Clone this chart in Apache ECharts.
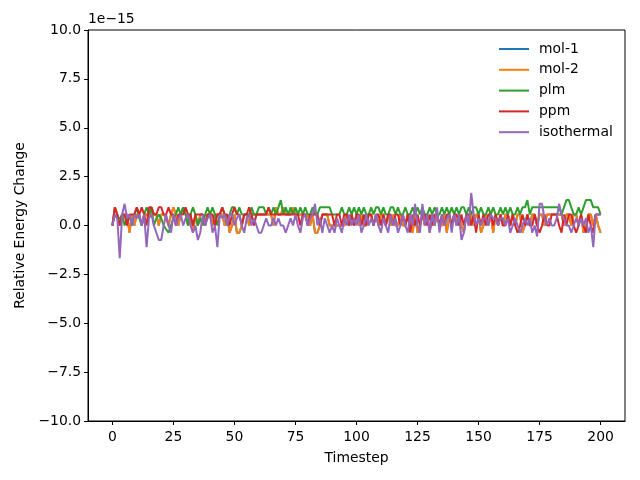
<!DOCTYPE html>
<html>
<head>
<meta charset="utf-8">
<script src="https://cdn.jsdelivr.net/npm/echarts@6/dist/echarts.min.js"></script>
<style>html,body{margin:0;padding:0;background:#fff}#c{width:640px;height:480px}</style>
</head>
<body>
<div id="c"></div>
<script>
// values in units of 1e-15
const seriesNames = ['mol-1', 'mol-2', 'plm', 'ppm', 'isothermal'];
const xTicks = [0, 25, 50, 75, 100, 125, 150, 175, 200];
const yTicks = [-10, -7.5, -5, -2.5, 0, 2.5, 5, 7.5, 10];

const mol2 = [
 0,0.93,0.56,0,0.37,0.56,0.56,-0.37,0.56,0,
 0.56,0.56,0,0.56,0.56,0.37,0.93,0.56,0.56,0,
 0.56,0.56,0.37,0,0.56,0.93,0.56,0,0.56,0.93,
 0.56,0,0.56,-0.37,0.56,0,0.56,0.56,0,0.56,
 0.56,0,0.56,0.56,0.56,0.56,0,0.56,-0.37,0,
 0.56,-0.37,-0.37,0,0.56,0.56,0,0.56,0.56,0.56,
 0.56,0.56,0.56,0.56,0.56,0.56,0,0.93,0.56,0.56,
 0.93,0.56,0.56,0.56,0.93,0.56,0.56,0.56,0.56,0.56,
 0.56,0,0.56,-0.37,-0.37,0,0.56,0.56,0.56,0,
 0,0,0,0,0,0,0.56,0,0.56,0,
 0.56,0,0.56,0,0,0.56,0.56,0,0.56,0,
 0.56,0.56,0,0.56,0,0.56,0,0,0.56,0,
 0,0.56,0.56,-0.37,0.56,-0.37,0,0.56,0,0.56,
 -0.37,0.56,0,0.56,0,0,0.56,-0.37,0.56,0,
 0.56,0,0.56,0,-0.37,0.56,0,0.56,0,0.56,
 0.56,-0.37,0,0.56,0,0.56,-0.37,0.56,0,0.56,
 0,0.56,0.56,0,0.56,0,0.56,0.56,-0.37,0,
 0.56,0,0.56,0.56,0,0.56,0.56,0,0.56,0.56,
 0.56,0.56,0.56,0.56,0.56,0,0.56,0.56,0,0.56,
 0.56,0,0.56,-0.37,0,0.56,0.56,0,0.56,0,
 -0.37
];
const mol1 = mol2.slice();

const plm = [
 0,0.56,0.37,0.37,0.56,0,0.37,0.56,0,0.56,
 0.93,0.37,0,0.56,0.93,0.56,0.93,0,0.37,0.56,
 0.37,0,-0.19,-0.37,0,0.37,0.56,0.93,0.56,0.93,
 0.56,0,0.56,0.93,0.56,0,0.37,0,0.56,0.93,
 0.56,0.93,0.56,0,0.56,0.93,0.56,0,0.56,0.93,
 0.93,0.56,0.93,0.56,0.56,0.56,0.56,0.93,0.56,0.56,
 0.93,0.93,0.93,0.56,0.93,0.56,0.93,0.56,0.93,1.3,
 0.56,0.93,0.56,0.93,0.56,0.93,0.56,0.93,0.56,0.93,
 0.56,0.56,0.93,0.56,0.56,0.93,0.93,0.93,0.93,0.93,
 0.56,0.56,0.56,0.56,0.93,0.56,0.56,0.93,0.56,0.93,
 0.56,0.93,0.56,0.93,0.56,0.56,0.93,0.56,0.93,0.93,
 0.56,0.93,0.56,0.56,0.93,0.93,0.56,0.93,0.56,0.56,
 0.93,0.56,0.56,0.93,0.56,0.93,0.56,0.93,0.56,0.56,
 0.93,0.56,0.93,0.56,0.56,0.93,0.56,0.93,0.56,0.93,
 0.56,0.93,0.56,0.93,0.93,0.56,0.93,0.56,0.93,0.93,
 0.56,0.93,0.56,0.56,0.93,0.56,0.93,0.56,0.56,0.93,
 0.56,0.93,0.56,0.93,0.56,0.56,0.93,0.56,0.93,0.93,
 1.3,0.56,0.93,0.93,0.93,0.93,0.93,0.93,0.93,0.93,
 0.93,0.93,0.93,0.93,0.56,0.93,1.3,1.3,0.93,0.56,
 0.56,0.93,0.56,0.93,1.3,1.3,1.3,0.93,0.93,0.93,
 0.56
];

const ppm = [
 0,0.93,0.56,0,0.56,0.56,0,0.56,0.56,0.56,
 0.93,0.56,0.93,0.56,0,0.93,0.93,0.56,0.56,0.93,
 0.93,0.56,0.56,0.93,0.56,0.56,0,0.56,0.56,0.56,
 0.93,0.56,0.56,0,0.56,0.56,0.56,0.56,0,0.56,
 0.56,0.56,0,0.56,0.56,0.93,0.56,0.56,0,0.56,
 0.93,0.56,0.56,0,0.56,0.56,0.93,0.56,0,0.56,
 0.56,0.56,0.56,0.56,0.93,0.56,0.56,0.56,0.56,0.56,
 0.56,0.56,0.56,0.56,0.56,0.56,0.56,0,0.56,0.56,
 0,0.56,0.56,0.56,0.56,0,0.56,0.56,0.56,0.56,
 0.56,0,0.56,0.56,0,0.56,0.56,0,0.56,0,
 0.56,0.56,0,0.56,0,0.56,0.56,0,0.56,0.56,
 0,0.56,0,0.56,0.56,0,0.56,0.56,0,0.56,
 0,0.56,-0.37,0.56,0,0.56,0,0.56,0.56,0,
 0.56,0,0.56,0.56,0,0.56,0,0.56,0.56,0,
 0.56,0.56,0,0.56,0,0.56,0.56,0,0.56,-0.37,
 0.56,0,0.56,0,0.56,0.56,0,0.56,0,0.56,
 0,0,0.56,0,0.56,0,-0.37,0,0.56,0,
 0.56,0,0,0.56,0,-0.37,0,0.56,0,0,
 0.56,0.56,0.56,0,-0.37,0.56,0,0.56,0.56,0,
 -0.37,0,0.56,0,-0.37,0.56,0,-0.37,0.56,0.56,
 0.56
];

const isothermal = [
 0,0.56,0.37,-1.67,0.56,1.11,0.37,0.56,0,0.56,
 0.37,0.56,0,0.56,-1.11,0.37,0.56,0,-0.37,-0.74,
 -0.74,0,0.56,0,-0.37,0.56,0,0.37,0.56,0,
 0.37,0.56,0,-0.37,0,-0.74,-0.37,0.56,0,0.37,
 0.56,-0.37,0,-1.11,0.56,0.37,0.56,0,0.56,0.56,
 0,0.37,0.56,0,-0.37,0.37,0.56,0,0.37,0,
 -0.37,-0.37,0,0.37,0,0,0.37,0,0.37,0,
 0,-0.37,0,0.37,0,0.56,0,-0.37,0.37,0.56,
 0,0.37,0.56,1.11,0,0.37,-0.37,0.37,0,-0.37,
 0,-0.37,0.37,0,-0.37,0.37,0,0.56,0,0.37,
 0,0.56,-0.37,0,0.56,0,0.37,0,0.56,0,
 -0.37,0.37,0,-0.37,0.56,0,0.37,-0.37,0,0.56,
 0,-0.37,0.56,0,1.11,0,-0.37,1.11,0,0.56,
 -0.37,0.56,0,0.93,-0.37,0.56,0,0.37,0.56,-0.37,
 0.56,0,0.56,-0.74,-0.37,0.56,0,1.67,0.56,0,
 0.37,0,0.37,0.37,0,0.56,0.37,0.37,0,0.37,
 0.37,0,0.37,-0.37,0,0.37,0,-0.37,0,0.37,
 0,0.37,-0.37,0,-0.56,1.11,1.11,0.37,0,0.37,
 0,0,0.37,1.11,0.56,0.37,0,0,-0.37,0,
 0.37,0,0.37,0,0.37,-0.37,0,-1.11,0.56,0.56,
 0.56
];

const colors = ['#1f77b4', '#ff7f0e', '#2ca02c', '#d62728', '#9467bd'];
const allValues = [mol1, mol2, plm, ppm, isothermal];
const FONT = 'DejaVu Sans';

const chart = echarts.init(document.getElementById('c'), null, {renderer: 'canvas'});
chart.setOption({
  animation: false,
  backgroundColor: '#fff',
  color: colors,
  textStyle: {fontFamily: FONT},
  grid: {left: 88, right: 15, top: 30, bottom: 59, show: true, borderColor: '#000', borderWidth: 1, backgroundColor: 'transparent'},
  legend: {
    orient: 'vertical', left: 499, top: 41, padding: 0,
    itemWidth: 30, itemHeight: 2, itemGap: 4.8,
    icon: 'rect',
    data: seriesNames.map((n, i) => ({name: n, itemStyle: {color: colors[i]}})),
    textStyle: {fontFamily: FONT, fontSize: 13.9, color: '#000', lineHeight: 16, padding: [0, 0, 0, 5]}
  },
  xAxis: {
    type: 'value', min: -10, max: 210,
    name: 'Timestep', nameLocation: 'middle', nameGap: 30,
    nameTextStyle: {fontFamily: FONT, fontSize: 13.9, color: '#000'},
    axisLine: {show: true, onZero: false, lineStyle: {color: '#000', width: 1}},
    axisTick: {show: true, length: 4, lineStyle: {color: '#000'}, customValues: xTicks},
    axisLabel: {customValues: xTicks, fontFamily: FONT, fontSize: 13.9, color: '#000', margin: 9},
    splitLine: {show: false}
  },
  yAxis: {
    type: 'value', min: -10, max: 10, interval: 2.5,
    name: 'Relative Energy Change', nameLocation: 'middle', nameGap: 55, nameRotate: 90,
    nameTextStyle: {fontFamily: FONT, fontSize: 13.9, color: '#000'},
    axisLine: {show: true, onZero: false, lineStyle: {color: '#000', width: 1}},
    axisTick: {show: true, length: 4, lineStyle: {color: '#000'}, customValues: yTicks},
    axisLabel: {customValues: yTicks, fontFamily: FONT, fontSize: 13.9, color: '#000', margin: 7,
      formatter: v => (v < 0 ? '\u2212' + Math.abs(v).toFixed(1) : v.toFixed(1))},
    splitLine: {show: false}
  },
  graphic: [{
    type: 'text', left: 88, top: 12,
    style: {text: '1e\u221215', font: '13.9px "DejaVu Sans"', fill: '#000'}
  }],
  series: seriesNames.map((n, i) => ({
    name: n, type: 'line', symbol: 'none', showSymbol: false,
    lineStyle: {width: 2, color: colors[i]},
    itemStyle: {color: colors[i]},
    data: allValues[i].map((v, t) => [t, v])
  }))
});
</script>
</body>
</html>
